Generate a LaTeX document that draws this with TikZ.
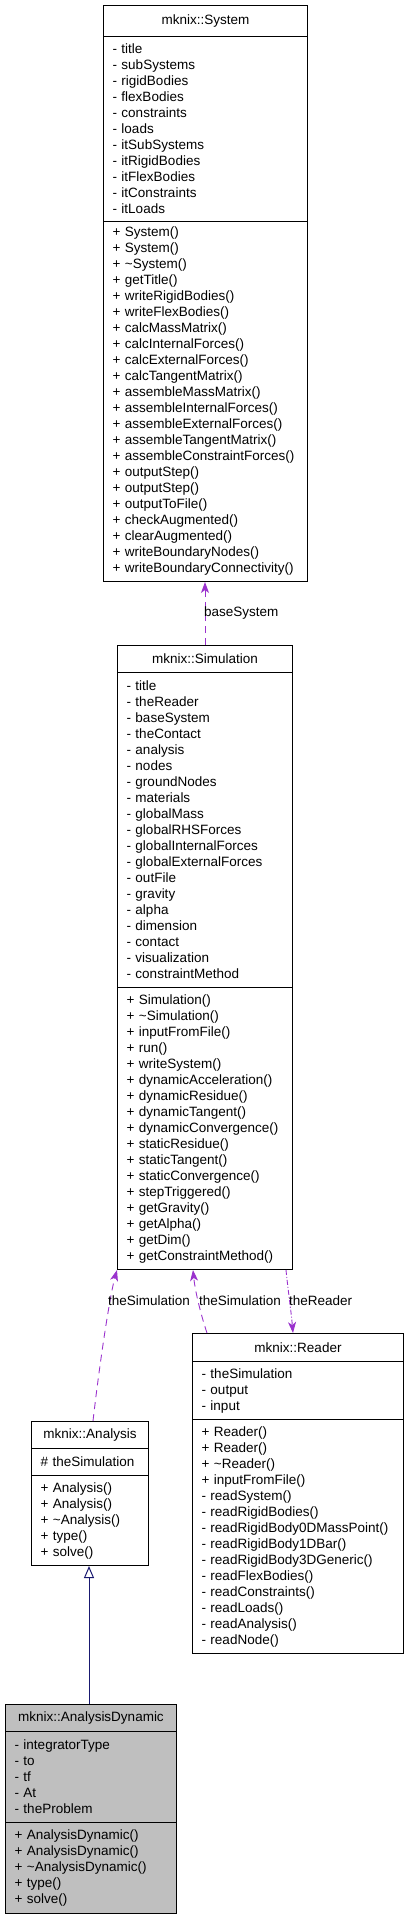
\documentclass[tikz,border=0pt]{standalone}
\usepackage{fontspec}
\setmainfont{Liberation Sans}
\usetikzlibrary{arrows.meta}

\definecolor{usecol}{HTML}{9A32CD}
\definecolor{inhcol}{HTML}{191970}
\definecolor{focusgray}{HTML}{BFBFBF}
\newcommand{\umlfont}{\fontsize{13.5}{16}\selectfont}

\tikzset{
  comp/.style={draw=black, line width=1pt, anchor=north west, inner xsep=9pt,
    inner ysep=0pt, align=left, font=\umlfont},
  ctitle/.style={comp, align=center},
  uses/.style={draw=usecol, line width=0.9pt, dash pattern=on 7pt off 5pt,
    -{Stealth[length=11pt,width=8pt,inset=3pt]}},
  usesdot/.style={uses, dash pattern=on 5pt off 2pt on 1pt off 2pt},
  inherit/.style={draw=inhcol, line width=1pt,
    -{Triangle[open,length=12pt,width=10pt]}},
  elabel/.style={anchor=west, inner sep=0pt, font=\umlfont}
}

\begin{document}
\begin{tikzpicture}[x=1pt,y=1pt]
    \useasboundingbox (0,0) rectangle (408,-1917);
    % mknix::System
    \node[ctitle, text width=186pt, minimum height=31pt] (sysTitle) at (103,-5) {mknix::System};
    \node[comp, text width=186pt, minimum height=185pt] (sysAttr) at (103,-36)
      {- title\\- subSystems\\- rigidBodies\\- flexBodies\\- constraints\\- loads\\- itSubSystems\\- itRigidBodies\\- itFlexBodies\\- itConstraints\\- itLoads};
    \node[comp, text width=186pt, minimum height=360pt] (sysMeth) at (103,-221)
      {+ System()\\+ System()\\+ \textasciitilde System()\\+ getTitle()\\+ writeRigidBodies()\\+ writeFlexBodies()\\+ calcMassMatrix()\\+ calcInternalForces()\\+ calcExternalForces()\\+ calcTangentMatrix()\\+ assembleMassMatrix()\\+ assembleInternalForces()\\+ assembleExternalForces()\\+ assembleTangentMatrix()\\+ assembleConstraintForces()\\+ outputStep()\\+ outputStep()\\+ outputToFile()\\+ checkAugmented()\\+ clearAugmented()\\+ writeBoundaryNodes()\\+ writeBoundaryConnectivity()};
    % mknix::Simulation
    \node[ctitle, text width=157pt, minimum height=27pt] (simTitle) at (117,-645) {mknix::Simulation};
    \node[comp, text width=157pt, minimum height=315pt] (simAttr) at (117,-672)
      {- title\\- theReader\\- baseSystem\\- theContact\\- analysis\\- nodes\\- groundNodes\\- materials\\- globalMass\\- globalRHSForces\\- globalInternalForces\\- globalExternalForces\\- outFile\\- gravity\\- alpha\\- dimension\\- contact\\- visualization\\- constraintMethod};
    \node[comp, text width=157pt, minimum height=282pt] (simMeth) at (117,-987)
      {+ Simulation()\\+ \textasciitilde Simulation()\\+ inputFromFile()\\+ run()\\+ writeSystem()\\+ dynamicAcceleration()\\+ dynamicResidue()\\+ dynamicTangent()\\+ dynamicConvergence()\\+ staticResidue()\\+ staticTangent()\\+ staticConvergence()\\+ stepTriggered()\\+ getGravity()\\+ getAlpha()\\+ getDim()\\+ getConstraintMethod()};
    % mknix::Reader
    \node[ctitle, text width=193pt, minimum height=28pt] (rdTitle) at (192,-1333) {mknix::Reader};
    \node[comp, text width=193pt, minimum height=58pt] (rdAttr) at (192,-1361)
      {- theSimulation\\- output\\- input};
    \node[comp, text width=193pt, minimum height=234pt] (rdMeth) at (192,-1419)
      {+ Reader()\\+ Reader()\\+ \textasciitilde Reader()\\+ inputFromFile()\\- readSystem()\\- readRigidBodies()\\- readRigidBody0DMassPoint()\\- readRigidBody1DBar()\\- readRigidBody3DGeneric()\\- readFlexBodies()\\- readConstraints()\\- readLoads()\\- readAnalysis()\\- readNode()};
    % mknix::Analysis
    \node[ctitle, text width=99pt, minimum height=27pt] (anaTitle) at (31,-1421) {mknix::Analysis};
    \node[comp, text width=99pt, minimum height=27pt] (anaAttr) at (31,-1448) {\# theSimulation};
    \node[comp, text width=99pt, minimum height=90pt] (anaMeth) at (31,-1475)
      {+ Analysis()\\+ Analysis()\\+ \textasciitilde Analysis()\\+ type()\\+ solve()};
    % mknix::AnalysisDynamic
    \node[ctitle, fill=focusgray, text width=153pt, minimum height=27pt] (adTitle) at (5,-1704) {mknix::AnalysisDynamic};
    \node[comp, fill=focusgray, text width=153pt, minimum height=91pt] (adAttr) at (5,-1731)
      {- integratorType\\- to\\- tf\\- At\\- theProblem};
    \node[comp, fill=focusgray, text width=153pt, minimum height=91pt] (adMeth) at (5,-1822)
      {+ AnalysisDynamic()\\+ AnalysisDynamic()\\+ \textasciitilde AnalysisDynamic()\\+ type()\\+ solve()};
    % connectors
    \draw[uses] (simTitle.north) -- (simTitle.north |- sysMeth.south);
    \node[elabel] (lblBase) at (204,-613) {baseSystem};
    \draw[uses] ([xshift=3pt]anaTitle.north) .. controls (100,-1360) and (110,-1295) .. ([xshift=0pt]simMeth.south west);
    \node[elabel] (lblSimA) at (108,-1301) {theSimulation};
    \draw[uses] ([xshift=15pt]rdTitle.north west) .. controls (200,-1312) and (195,-1290) .. ([xshift=76pt]simMeth.south west);
    \node[elabel] (lblSimR) at (199,-1301) {theSimulation};
    \draw[usesdot] ([xshift=169pt]simMeth.south west) .. controls (288,-1290) and (291,-1310) .. ([xshift=101pt]rdTitle.north west);
    \node[elabel] (lblRd) at (289,-1301) {theReader};
    \draw[inherit] (adTitle.north -| 89,0) -- (anaMeth.south -| 89,0);
\end{tikzpicture}
\end{document}
